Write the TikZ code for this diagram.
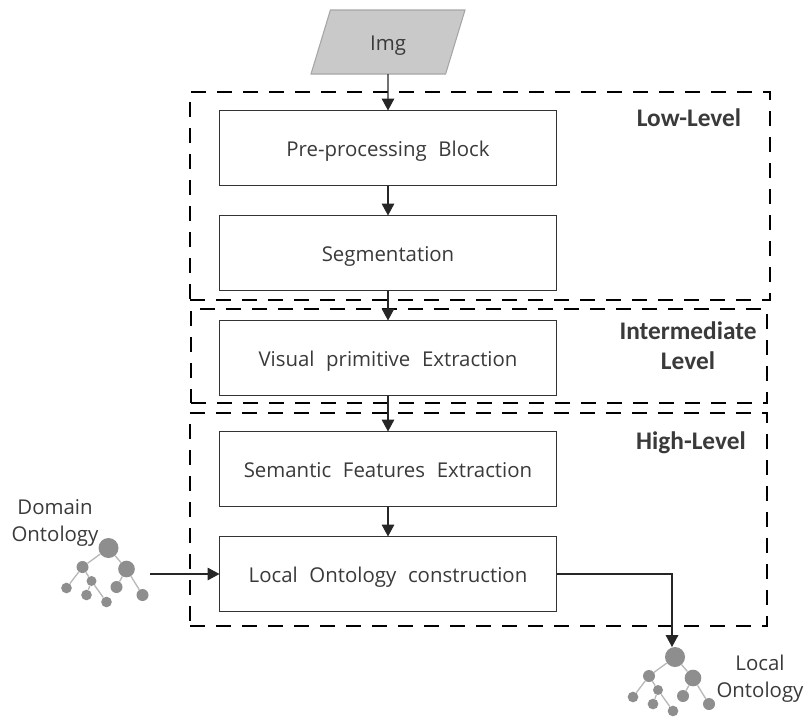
\documentclass[tikz,border=0pt]{standalone}
\usepackage{xcolor}
\usepackage{fontspec}
\setmainfont{Open Sans}
\newfontfamily\blockfont[WordSpace=2.2]{Open Sans}
\newfontfamily\boldfont[BoldFont={Carlito Bold}]{Carlito}
\usetikzlibrary{arrows.meta,shapes.geometric}
\definecolor{txtgray}{HTML}{3A3A3A}
\definecolor{imgfill}{HTML}{C9C9C9}
\definecolor{imgline}{HTML}{A6A6A6}
\definecolor{treegray}{HTML}{8E8E8E}
\definecolor{edgegray}{HTML}{B8B8B8}
\tikzset{
    blocktext/.style={text=txtgray, text height=14pt, text depth=2pt, font=\blockfont\fontsize{15.3pt}{18pt}\selectfont},
    blockbox/.style={blocktext, draw=black!80, line width=1pt, fill=white, outer sep=0pt, minimum width=252.75pt, minimum height=56.25pt},
    levelbox/.style={draw=black, line width=2.2pt, dash pattern=on 11.25pt off 8.25pt, outer sep=0pt},
    levellabel/.style={text=txtgray, align=center, font=\boldfont\bfseries\fontsize{19pt}{22.5pt}\selectfont},
    onttext/.style={text=txtgray, align=center, font=\fontsize{15.3pt}{20.5pt}\selectfont},
    flow/.style={-{Triangle[length=9pt,width=9.5pt]}, line width=0.9pt, draw=black!85},
    treenode/.style={circle, fill=treegray, inner sep=0pt, minimum size=#1},
    treeedge/.style={draw=edgegray, line width=1pt},
    onttree/.pic={
        \node[treenode=15pt] (-root) at (0,0) {};
        \node[treenode=9pt] (-left) at (-26,19) {};
        \node[treenode=12.5pt] (-right) at (18,21) {};
        \node[treenode=8pt] (-ll) at (-42,40) {};
        \node[treenode=7.5pt] (-mid) at (-17,33) {};
        \node[treenode=8pt] (-ml) at (-22,47) {};
        \node[treenode=8pt] (-mr) at (-2,54) {};
        \node[treenode=9pt] (-rl) at (8,39) {};
        \node[treenode=9pt] (-rr) at (34,47) {};
        \draw[treeedge] (-root) -- (-left) (-root) -- (-right) (-left) -- (-ll) (-left) -- (-mid) (-mid) -- (-ml) (-mid) -- (-mr) (-right) -- (-rl) (-right) -- (-rr);
    }
}

\begin{document}
\begin{tikzpicture}[x=0.75pt, y=-0.75pt]
    \useasboundingbox (0,0) rectangle (809,721);

    % dashed levels
    \node[levelbox, minimum width=435pt, minimum height=156pt] (low) at (480,196) {};
    \node[levelbox, minimum width=432pt, minimum height=70.5pt] (inter) at (479,356) {};
    \node[levelbox, minimum width=432.75pt, minimum height=159.75pt] (high) at (478.5,519.5) {};

    \node[levellabel] (lowlabel) at (689,118) {Low-Level};
    \node[levellabel] (interlabel) at (688,346) {Intermediate\\Level};
    \node[levellabel] (highlabel) at (691,443) {High-Level};

    % blocks
    \node[blocktext, draw=imgline, fill=imgfill, line width=0.8pt, trapezium, trapezium left angle=76, trapezium right angle=104, trapezium stretches=true, minimum width=116pt, minimum height=48pt, outer sep=0pt] (img) at (388,42) {Img};
    \node[blockbox] (pre) at (388,148) {Pre-processing Block};
    \node[blockbox] (seg) at (388,253) {Segmentation};
    \node[blockbox] (visual) at (388,358) {Visual primitive Extraction};
    \node[blockbox] (semantic) at (388,469) {Semantic Features Extraction};
    \node[blockbox] (localont) at (388,574) {Local Ontology construction};

    % ontologies
    \pic (domain) at (108.5,548) {onttree};
    \pic (local) at (675,657) {onttree};
    \node[onttext] (domainlabel) at (55,523) {Domain\\Ontology};
    \node[onttext] (locallabel) at (760,679) {Local\\Ontology};
    \coordinate (domainout) at (150,574);
    \coordinate (localin) at (672,647);

    % flow
    \draw[flow] (img.south) -- (pre.north);
    \draw[flow] (pre) -- (seg);
    \draw[flow] (seg) -- (visual);
    \draw[flow] (visual) -- (semantic);
    \draw[flow] (semantic) -- (localont);
    \draw[flow] (domainout) -- (localont.west);
    \draw[flow] (localont.east) -| (localin);
\end{tikzpicture}
\end{document}
